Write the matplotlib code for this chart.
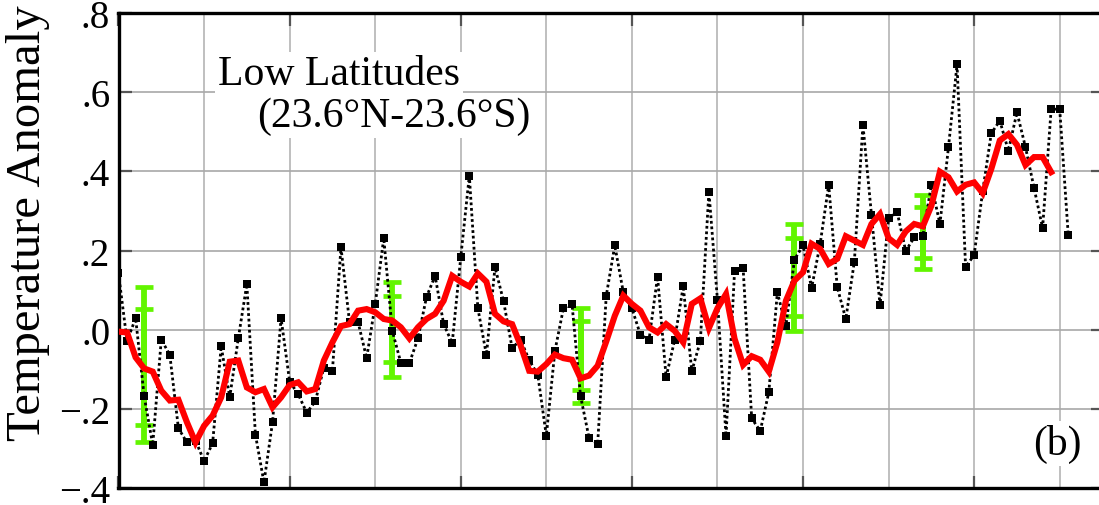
import numpy as np
import matplotlib
matplotlib.use("Agg")
import matplotlib.pyplot as plt
from matplotlib.ticker import MultipleLocator, FuncFormatter

plt.rcParams['font.family'] = ['Liberation Serif', 'DejaVu Serif']

# annual anomalies, 1880-1991
years = np.arange(1880, 1992)
anomaly = [
    0.142, -0.029, 0.029, -0.168, -0.291, -0.025, -0.064, -0.249, -0.285, -0.280,
    -0.332, -0.287, -0.042, -0.171, -0.022, 0.115, -0.265, -0.386, -0.234, 0.029,
    -0.131, -0.163, -0.210, -0.181, -0.096, -0.104, 0.208, 0.019, 0.019, -0.072,
    0.064, 0.231, -0.003, -0.084, -0.084, -0.022, 0.083, 0.136, 0.014, -0.034,
    0.183, 0.389, 0.054, -0.064, 0.158, 0.072, -0.046, -0.026, -0.077, -0.114,
    -0.268, -0.054, 0.054, 0.065, -0.168, -0.274, -0.289, 0.085, 0.213, 0.094,
    0.054, -0.013, -0.026, 0.134, -0.120, -0.026, 0.110, -0.105, -0.029, 0.349,
    0.075, -0.269, 0.148, 0.155, -0.224, -0.256, -0.158, 0.094, 0.009, 0.177,
    0.213, 0.105, 0.216, 0.366, 0.107, 0.027, 0.172, 0.518, 0.290, 0.062,
    0.281, 0.297, 0.199, 0.233, 0.236, 0.366, 0.267, 0.461, 0.670, 0.158,
    0.189, 0.350, 0.496, 0.528, 0.452, 0.549, 0.461, 0.358, 0.257, 0.557,
    0.557, 0.238,
]

# 5-year running mean (red), 1880-1989
mean_years = np.arange(1880, 1990)
running_mean = [
    -0.005, -0.007, -0.070, -0.098, -0.106, -0.154, -0.179, -0.177, -0.234, -0.285,
    -0.243, -0.217, -0.171, -0.081, -0.078, -0.146, -0.158, -0.150, -0.196, -0.171,
    -0.140, -0.133, -0.156, -0.150, -0.078, -0.032, 0.009, 0.014, 0.048, 0.052,
    0.044, 0.027, 0.023, 0.006, -0.022, 0.006, 0.027, 0.040, 0.073, 0.136,
    0.121, 0.109, 0.142, 0.121, 0.040, 0.021, 0.014, -0.040, -0.104, -0.106,
    -0.087, -0.063, -0.072, -0.076, -0.123, -0.116, -0.091, -0.030, 0.035, 0.086,
    0.065, 0.048, 0.006, -0.007, 0.014, -0.003, -0.032, 0.065, 0.079, 0.004,
    0.054, 0.090, -0.023, -0.089, -0.067, -0.076, -0.106, -0.032, 0.073, 0.124,
    0.145, 0.217, 0.204, 0.166, 0.179, 0.236, 0.225, 0.214, 0.267, 0.292,
    0.231, 0.214, 0.248, 0.267, 0.261, 0.313, 0.399, 0.385, 0.349, 0.366,
    0.372, 0.345, 0.406, 0.478, 0.494, 0.467, 0.416, 0.436, 0.436, 0.398,
]

# green error bars
err_years = [1883, 1912, 1934, 1959, 1974]
outer_lo = [-0.283, -0.119, -0.185, -0.003, 0.153]
outer_hi = [0.109, 0.120, 0.054, 0.267, 0.339]
inner_lo = [-0.240, -0.082, -0.152, 0.035, 0.181]
inner_hi = [0.052, 0.085, 0.021, 0.231, 0.311]

fig = plt.figure(figsize=(10.99, 5.06), dpi=100)
ax = fig.add_axes([118.5 / 1099, 17 / 506, 984 / 1099, 475 / 506])

green = '#62f500'
for lo, hi in [(outer_lo, outer_hi), (inner_lo, inner_hi)]:
    lo = np.array(lo)
    hi = np.array(hi)
    mid = (lo + hi) / 2
    ax.errorbar(err_years, mid, yerr=[mid - lo, hi - mid], fmt='none',
                ecolor=green, elinewidth=4.2, capsize=6.5, capthick=3.4, zorder=3)

ax.plot(years, anomaly, color='black', linestyle=(0, (1.0, 1.0)), linewidth=2.0,
        marker='s', markersize=6, markeredgewidth=0, zorder=4)
ax.plot(mean_years, running_mean, color='#ff0000', linewidth=4.4,
        solid_joinstyle='miter', zorder=5)

ax.set_xlim(1880, 1995)
ax.set_ylim(-0.4, 0.8)
ax.xaxis.set_major_locator(MultipleLocator(20))
ax.xaxis.set_minor_locator(MultipleLocator(10))
ax.yaxis.set_major_locator(MultipleLocator(0.2))


def fmt(v, pos):
    s = ('%.1f' % abs(v)).lstrip('0')
    return ('\u2212' + s) if v < -1e-9 else s


ax.yaxis.set_major_formatter(FuncFormatter(fmt))

ax.grid(True, which='both', axis='x', color='#b4b4b4', linewidth=1.2, zorder=0)
ax.grid(True, which='major', axis='y', color='#a8a8a8', linewidth=1.2, zorder=0)
ax.set_axisbelow(True)

ax.tick_params(axis='both', which='major', direction='in', length=9, width=1.6,
               color='#555555', top=True, right=True, labelsize=28, pad=6)
ax.tick_params(axis='x', which='major', labelbottom=False)
ax.tick_params(axis='x', which='minor', length=0)
for sp in ax.spines.values():
    sp.set_linewidth(2.4)
    sp.set_color('black')

ax.set_ylabel('Temperature Anomaly', fontsize=35)
ax.yaxis.set_label_coords(-0.070, 0.560)

box = dict(facecolor='white', edgecolor='none', pad=2)
ax.text(0.1013, 0.8505, 'Low Latitudes', transform=ax.transAxes, fontsize=30,
        ha='left', va='baseline', bbox=box, zorder=2)
ax.text(0.1408, 0.762, '(23.6\u00b0N-23.6\u00b0S)', transform=ax.transAxes, fontsize=30,
        ha='left', va='baseline', bbox=box, zorder=2)
ax.text(0.929, 0.0716, '(b)', transform=ax.transAxes, fontsize=30,
        ha='left', va='baseline', bbox=box, zorder=2)

fig.savefig('out.png', dpi=100)
